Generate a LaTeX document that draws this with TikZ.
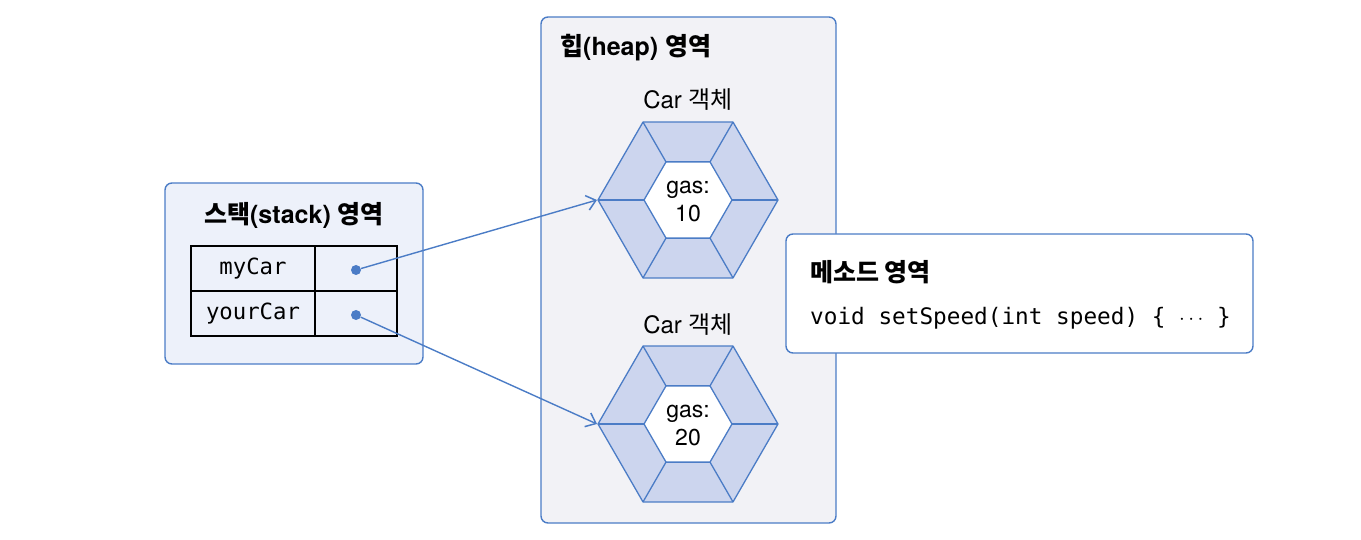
\documentclass[tikz,border=0pt]{standalone}
\usepackage{fontspec}
\setmainfont{TeX Gyre Heros}
\setmonofont{DejaVu Sans Mono}
\newfontfamily\krfont{Noto Sans CJK KR}
\newcommand{\ko}[1]{{\krfont #1}}
\usetikzlibrary{arrows.meta, positioning}
\definecolor{arealine}{HTML}{4B7CC6}
\definecolor{stackfill}{HTML}{EDF1FA}
\definecolor{heapfill}{HTML}{F2F2F6}
\definecolor{hexfill}{HTML}{CCD5EE}
\tikzset{
  area/.style={draw=arealine, line width=1.4pt, rounded corners=7pt},
  heading/.style={font=\fontsize{25}{30}\selectfont\bfseries, inner sep=0pt},
  cell/.style={draw=black, line width=1.2pt, minimum height=45pt, inner sep=0pt,
    font=\fontsize{22.3}{26}\ttfamily},
  refdot/.style={circle, fill=arealine, inner sep=0pt, minimum size=10pt},
  hexline/.style={draw=arealine, line width=1.3pt, line join=round},
  label/.style={font=\fontsize{24}{28}\selectfont, inner sep=0pt},
  gastext/.style={font=\fontsize{23}{28}\selectfont, align=center, inner sep=0pt},
  pointer/.style={draw=arealine, line width=1.4pt, -{Straight Barb[length=9pt, width=15pt, line width=1.5pt]}}
}
\begin{document}
\begin{tikzpicture}[x=1pt, y=-1pt]
    \useasboundingbox (0,0) rectangle (1361,540);
    % stack area
    \draw[area, fill=stackfill] (165,183) rectangle (423,364);
    \node[heading] (stacktitle) at (294,215) {\ko{스택}(stack) \ko{영역}};
    \node[cell, minimum width=124pt] (mycar) at (253,268.5) {myCar};
    \node[cell, minimum width=82pt] (mycarref) at (356,268.5) {};
    \node[cell, minimum width=124pt] (yourcar) at (253,313.5) {yourCar};
    \node[cell, minimum width=82pt] (yourcarref) at (356,313.5) {};
    \node[refdot] (dot1) at (356,270) {};
    \node[refdot] (dot2) at (356,315) {};

    % heap area
    \draw[area, fill=heapfill] (541,17) rectangle (836,523);
    \node[heading, anchor=west] (heaptitle) at (560,48) {\ko{힙}(heap) \ko{영역}};
    \node[label] (carlabel1) at (688,100) {Car \ko{객체}};
    \node[label] (carlabel2) at (688,325) {Car \ko{객체}};
    % car objects
    \foreach \n/\y/\v in {1/200/10, 2/424/20} {
      \begin{scope}[shift={(688,\y)}]
        \filldraw[hexline, fill=hexfill] (0:90) \foreach \a in {60,120,...,300} { -- (\a:90) } -- cycle;
        \filldraw[hexline, fill=white] (0:44) \foreach \a in {60,120,...,300} { -- (\a:44) } -- cycle;
        \foreach \a in {0,60,...,300} \draw[hexline] (\a:44) -- (\a:90);
        \node[gastext] (gas\n) at (0,1) {gas:\\\v};
        \coordinate (car\n) at (180:91);
      \end{scope}
    }

    % method area
    \draw[area, fill=white] (786,234) rectangle (1253,353);
    \node[heading, anchor=west] (methodtitle) at (810,272) {\ko{메소드 영역}};
    \node[anchor=west, inner sep=0pt, font=\fontsize{22.7}{26}\ttfamily] (setspeed) at (810,318)
      {void setSpeed(int speed) \{ $\cdots$ \}};

    % references
    \draw[pointer] (dot1) -- (car1);
    \draw[pointer] (dot2) -- (car2);
\end{tikzpicture}
\end{document}
